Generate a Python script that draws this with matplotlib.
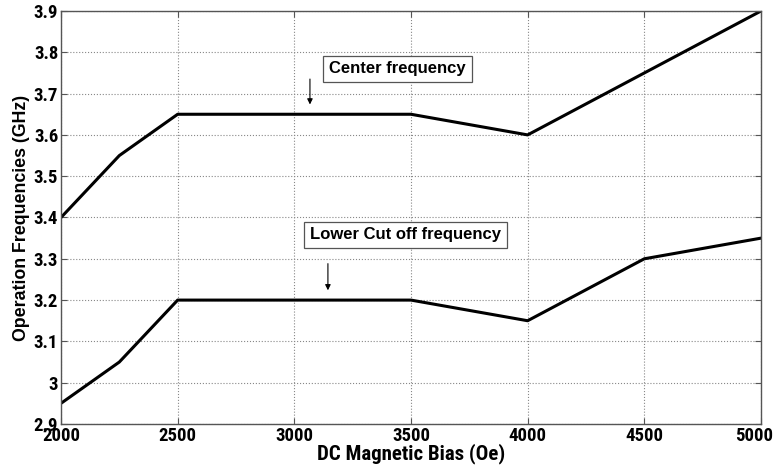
import matplotlib.pyplot as plt
from matplotlib import font_manager
from matplotlib.transforms import ScaledTranslation

bias = [2000, 2250, 2500, 3000, 3500, 4000, 4500, 5000]
center_freq = [3.40, 3.55, 3.65, 3.65, 3.65, 3.60, 3.75, 3.90]
lower_freq = [2.95, 3.05, 3.20, 3.20, 3.20, 3.15, 3.30, 3.35]

x_ticks = [2000, 2500, 3000, 3500, 4000, 4500, 5000]
y_ticks = [2.9, 3.0, 3.1, 3.2, 3.3, 3.4, 3.5, 3.6, 3.7, 3.8, 3.9]
y_labels = ['2.9', '3', '3.1', '3.2', '3.3', '3.4', '3.5', '3.6', '3.7', '3.8', '3.9']

# pick a condensed face if one is installed
installed = {f.name for f in font_manager.fontManager.ttflist}
narrow_name = next((n for n in ['Liberation Sans Narrow', 'Arial Narrow', 'DejaVu Sans Condensed',
                                'Roboto Condensed', 'Open Sans Condensed', 'Liberation Sans']
                    if n in installed), 'DejaVu Sans')
narrow = [narrow_name, 'DejaVu Sans']
arial = ['Liberation Sans', 'DejaVu Sans']

fig = plt.figure(figsize=(7.78, 4.69), dpi=100)
ax = fig.add_axes([0.0784, 0.096, 0.8997, 0.8805])

ax.plot(bias, center_freq, color='black', linewidth=2.2)
ax.plot(bias, lower_freq, color='black', linewidth=2.2)

ax.set_xlim(2000, 5000)
ax.set_ylim(2.9, 3.9)
ax.set_xticks(x_ticks)
ax.set_yticks(y_ticks)
ax.set_yticklabels(y_labels)

ax.grid(True, linestyle=':', color='#888888', linewidth=0.8)
ax.tick_params(direction='in', length=4, top=True, right=True, pad=2, color='#555555')
for s in ax.spines.values():
    s.set_color('#555555')
    s.set_linewidth(1)

for lbl in ax.get_xticklabels() + ax.get_yticklabels():
    lbl.set_family(narrow)
    lbl.set_fontweight('bold')
    lbl.set_fontsize(13.5)

# keep the last x label inside the figure
last = ax.get_xticklabels()[-1]
last.set_transform(last.get_transform() + ScaledTranslation(-5 / 72, 0, fig.dpi_scale_trans))

ax.set_xlabel('DC Magnetic Bias (Oe)', family=narrow, fontweight='bold', fontsize=15, labelpad=-1)
ax.set_ylabel('Operation Frequencies (GHz)', family=arial, fontweight='bold', fontsize=12.8, labelpad=3)

box = dict(boxstyle='square,pad=0.35', facecolor='white', edgecolor='#555555', linewidth=0.9)
ax.text(3149, 3.76, 'Center frequency', family=arial, fontweight='bold', fontsize=12,
        ha='left', va='center', bbox=box)
ax.text(3067, 3.358, 'Lower Cut off frequency', family=arial, fontweight='bold', fontsize=12,
        ha='left', va='center', bbox=box)

ax.annotate('', xy=(3067, 3.667), xytext=(3067, 3.742),
            arrowprops=dict(arrowstyle='-|>', color='black', lw=0.8, mutation_scale=8))
ax.annotate('', xy=(3144, 3.217), xytext=(3144, 3.295),
            arrowprops=dict(arrowstyle='-|>', color='black', lw=0.8, mutation_scale=8))

fig.savefig('out.png', dpi=100)
